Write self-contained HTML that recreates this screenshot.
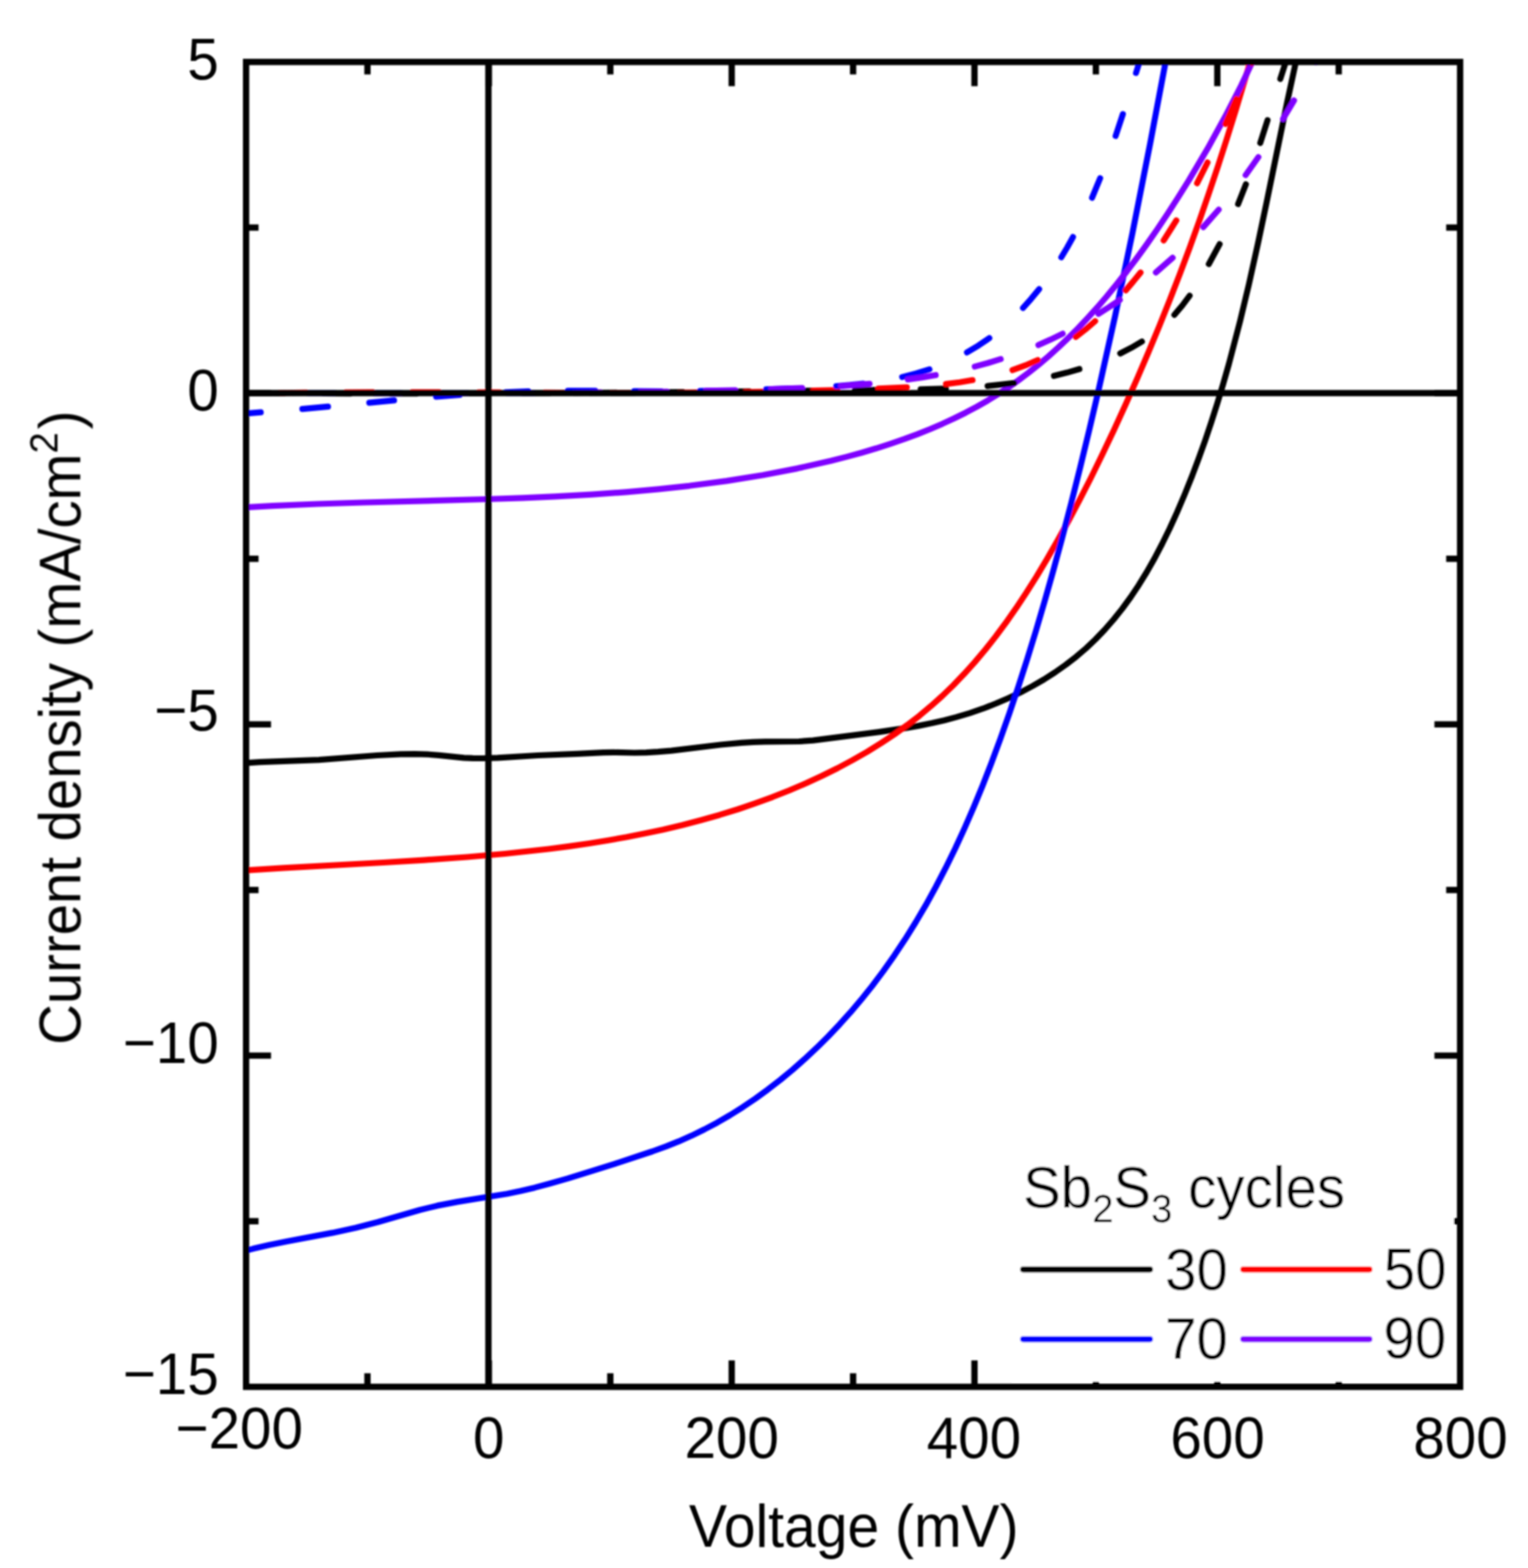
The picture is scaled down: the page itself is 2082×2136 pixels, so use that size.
<!DOCTYPE html>
<html><head><meta charset="utf-8"><title>J-V curves</title>
<style>
html,body{margin:0;padding:0;background:#fff;}
body{width:2082px;height:2136px;overflow:hidden;}
svg{display:block;}
text{font-family:"Liberation Sans",Arial,Helvetica,sans-serif;fill:#000;}
</style></head><body>
<svg width="2082" height="2136" viewBox="0 0 2082 2136">
<rect x="0" y="0" width="2082" height="2136" fill="#ffffff"/>
<defs><filter id="bl" filterUnits="userSpaceOnUse" x="0" y="0" width="2082" height="2136"><feGaussianBlur stdDeviation="0.8"/></filter>
<clipPath id="pc"><rect x="335.3" y="84.4" width="1654.2" height="1804.8"/></clipPath></defs>
<g filter="url(#bl)">
<g clip-path="url(#pc)" fill="none" stroke-width="8.2" stroke-linejoin="round">
<path d="M306.1,1041.1 353.7,1038.2 434.5,1035.1 513.9,1029.0 545.9,1027.4 565.2,1027.2 583.0,1027.7 598.1,1028.8 632.2,1032.3 644.3,1032.9 656.9,1033.0 678.1,1032.4 733.1,1029.0 786.8,1026.9 822.2,1025.1 835.9,1024.9 864.7,1025.5 880.4,1025.1 896.6,1024.2 914.8,1022.6 981.9,1014.5 1010.2,1011.9 1026.4,1010.9 1042.6,1010.3 1088.7,1010.0 1107.8,1008.6 1197.8,997.1 1233.3,991.9 1252.2,988.6 1270.0,985.1 1286.8,981.2 1303.1,976.9 1321.6,971.3 1339.5,965.2 1357.2,958.3 1374.2,951.0 1390.8,943.1 1407.0,934.5 1422.4,925.6 1437.4,916.0 1452.3,905.5 1466.6,894.4 1480.0,883.0 1492.7,870.9 1505.2,857.9 1517.4,843.9 1529.3,829.0 1540.6,813.5 1551.5,797.2 1562.4,779.5 1573.0,760.9 1583.4,741.0 1593.6,720.3 1603.8,697.9 1614.2,673.5 1624.3,648.4 1633.1,625.0 1641.9,600.6 1650.3,575.6 1658.5,550.0 1666.6,523.3 1674.4,496.0 1689.5,438.2 1701.7,387.4 1714.2,331.0 1725.6,276.8 1753.6,140.4 1771.1,59.3" stroke="#000000"/>
<path d="M307.6,1187.5 386.6,1182.4 522.1,1175.0 577.9,1171.6 636.3,1167.5 688.1,1163.0 747.7,1156.5 775.7,1152.9 802.6,1149.0 828.9,1144.7 854.1,1140.3 879.2,1135.3 903.3,1130.2 929.6,1124.0 955.2,1117.3 980.3,1110.2 1005.2,1102.5 1028.9,1094.4 1052.5,1085.8 1075.4,1076.7 1098.2,1067.0 1119.8,1057.0 1141.1,1046.5 1161.6,1035.5 1181.4,1024.2 1200.2,1012.5 1218.7,1000.3 1236.2,987.7 1252.9,974.9 1268.6,961.7 1283.8,948.1 1298.8,933.6 1313.6,918.2 1328.2,902.0 1342.6,884.9 1356.7,867.0 1370.6,848.3 1384.5,828.4 1398.2,807.7 1412.2,785.6 1426.4,761.9 1441.3,735.9 1456.6,708.2 1471.6,679.9 1486.4,651.0 1501.9,619.3 1517.5,586.4 1533.5,551.5 1549.5,515.6 1564.9,479.7 1579.7,444.0 1593.9,408.5 1607.6,373.3 1620.8,338.0 1633.9,301.6 1646.7,264.6 1659.5,226.6 1671.8,188.5 1683.9,149.8 1709.5,64.1" stroke="#ff0000"/>
<path d="M307.4,1710.7 344.8,1701.1 366.6,1696.1 391.4,1691.0 453.0,1679.4 485.0,1672.5 514.9,1664.8 572.1,1648.3 596.0,1642.4 623.5,1637.1 690.9,1626.2 708.9,1622.5 728.4,1617.9 749.4,1612.3 773.6,1605.4 836.3,1585.9 888.8,1568.5 907.8,1561.6 924.6,1554.9 942.3,1547.1 959.8,1538.5 977.2,1529.3 994.7,1519.1 1012.1,1508.2 1029.2,1496.6 1046.4,1484.1 1063.3,1471.0 1079.8,1457.3 1096.4,1442.7 1112.6,1427.6 1128.7,1411.6 1143.9,1395.6 1159.0,1378.8 1173.5,1361.7 1187.9,1343.7 1203.4,1323.1 1218.6,1301.6 1233.4,1279.3 1247.6,1256.5 1261.5,1232.9 1275.2,1208.0 1288.6,1182.2 1301.7,1155.5 1314.3,1128.1 1326.6,1099.9 1338.8,1070.4 1351.0,1039.1 1363.0,1006.6 1375.3,971.8 1387.6,935.4 1399.7,897.8 1411.6,859.1 1423.5,818.6 1435.3,776.9 1447.1,733.4 1459.4,686.3 1471.7,637.3 1483.8,587.4 1495.9,535.7 1519.4,430.5 1543.0,317.6 1567.0,196.4 1593.4,56.9" stroke="#0000ff"/>
<path d="M306.5,692.8 370.9,689.1 432.4,686.5 495.8,684.5 663.0,680.0 712.0,678.3 756.2,676.4 806.4,673.6 852.8,670.3 897.1,666.3 939.3,661.8 990.2,655.1 1039.3,647.2 1086.6,638.1 1132.1,627.8 1153.3,622.4 1174.0,616.7 1193.9,610.8 1213.2,604.6 1231.9,598.2 1249.7,591.6 1266.9,584.7 1283.9,577.4 1299.9,570.0 1315.7,562.2 1330.9,554.1 1345.9,545.6 1360.2,536.8 1373.9,527.8 1387.6,518.1 1401.1,508.0 1414.9,497.0 1428.4,485.6 1441.8,473.5 1455.3,460.7 1468.7,447.3 1481.7,433.5 1494.8,419.1 1507.7,404.1 1521.4,387.4 1535.2,369.9 1548.9,351.7 1562.8,332.5 1576.7,312.5 1590.9,291.2 1605.6,268.4 1619.7,245.8 1645.7,201.9 1669.8,158.1 1691.4,116.0 1715.5,65.2" stroke="#7f00ff"/>
<path d="M289.9,535.1 296.8,535.2 M350.5,535.6 387.3,535.8 M441.0,536.0 477.8,536.1 M531.5,536.1 568.3,536.1 M622.0,536.0 658.8,535.9 M712.5,535.7 749.3,535.5 M803.0,535.1 839.8,534.9 M893.5,534.4 930.3,534.1 M984.0,533.6 1020.8,533.2 M1074.5,532.6 1111.3,532.2 M1165.0,531.6 1199.0,531.2 M1254.5,530.4 1288.8,529.3 M1345.7,525.8 1363.9,523.9 1381.6,521.8 M1436.1,512.0 1453.9,507.6 1470.7,502.8 M1526.4,481.5 1541.6,473.7 1555.9,465.3 M1600.2,428.8 1610.8,416.4 1620.9,402.9 M1647.1,359.7 1661.8,332.6 M1687.0,278.0 1697.6,251.0 M1717.2,194.8 1727.1,163.7 M1744.5,107.6 1754.7,75.9" stroke="#000000" stroke-linecap="round"/>
<path d="M290.1,537.0 326.9,536.2 M380.6,535.3 417.4,534.9 M471.1,534.5 507.9,534.3 M561.6,534.3 598.4,534.3 M652.1,534.5 680.7,534.6 M741.9,534.8 775.8,535.0 M832.6,535.1 865.3,535.1 M925.0,534.9 950.9,534.7 M1015.2,534.0 1046.1,533.6 M1108.1,532.2 1140.8,531.3 M1197.0,529.4 1235.6,527.5 M1289.0,523.1 1307.8,520.7 1325.1,517.8 M1379.6,504.2 1397.3,497.7 1414.1,490.4 M1465.8,459.0 1479.2,448.6 1492.2,437.5 M1533.9,395.5 1544.1,383.5 1554.0,371.3 M1585.6,327.5 1602.8,300.3 M1631.1,249.6 1645.3,221.4 M1669.7,168.7 1684.6,134.7 M1705.4,85.9 1709.4,76.4" stroke="#ff0000" stroke-linecap="round"/>
<path d="M340.3,562.8 355.3,561.7 M412.0,557.1 446.9,553.9 M503.2,548.6 536.9,545.4 M594.3,540.4 626.3,538.0 M689.3,534.3 719.8,533.1 M773.8,532.3 811.0,532.4 M864.2,532.8 900.9,533.0 M953.9,532.7 990.9,532.0 M1044.0,530.4 1081.0,529.0 M1139.5,526.0 1158.4,524.4 1176.1,522.5 M1229.3,513.6 1248.4,508.7 1266.4,503.1 M1317.6,480.1 1333.2,470.7 1348.0,460.6 M1393.9,419.5 1404.9,407.2 1415.9,393.8 M1446.1,350.5 1454.2,337.0 1462.0,322.9 M1488.0,269.4 1499.0,242.7 M1520.1,185.2 1530.0,155.4 M1547.9,99.4 1555.1,76.4" stroke="#0000ff" stroke-linecap="round"/>
<path d="M329.2,535.5 366.0,535.5 M419.7,535.5 456.5,535.5 M510.2,535.6 547.0,535.7 M600.7,535.7 637.5,535.7 M691.2,535.5 728.0,535.4 M781.7,535.1 818.5,534.7 M872.2,534.1 908.9,533.5 M962.2,532.4 1001.7,531.5 M1051.0,530.0 1092.9,528.5 M1146.1,525.8 1184.8,522.8 M1237.0,516.9 1256.5,514.1 1274.9,511.0 M1328.2,499.4 1346.2,494.5 1363.5,489.2 M1414.9,470.0 1431.5,462.6 1447.9,454.6 M1496.8,427.5 1511.2,418.4 1525.8,408.6 M1575.0,371.1 1597.8,351.1 M1639.7,309.3 1660.5,285.6 M1697.3,238.5 1714.6,214.0 M1748.2,162.0 1763.2,136.9 M1792.7,84.7 1797.6,75.7" stroke="#7f00ff" stroke-linecap="round"/>
</g>
<g stroke="#000" stroke-width="8.6" fill="none">
<line x1="335.3" y1="535.5" x2="1989.5" y2="535.5"/>
<line x1="665.5" y1="84.4" x2="665.5" y2="1889.2"/>
</g>
<g stroke="#000" stroke-width="8.6"><line x1="500.7" y1="84.4" x2="500.7" y2="101.4"/><line x1="500.7" y1="1889.2" x2="500.7" y2="1870.7"/><line x1="666.1" y1="84.4" x2="666.1" y2="117.4"/><line x1="666.1" y1="1889.2" x2="666.1" y2="1853.2"/><line x1="831.6" y1="84.4" x2="831.6" y2="101.4"/><line x1="831.6" y1="1889.2" x2="831.6" y2="1870.7"/><line x1="997.0" y1="84.4" x2="997.0" y2="117.4"/><line x1="997.0" y1="1889.2" x2="997.0" y2="1853.2"/><line x1="1162.4" y1="84.4" x2="1162.4" y2="101.4"/><line x1="1162.4" y1="1889.2" x2="1162.4" y2="1870.7"/><line x1="1327.8" y1="84.4" x2="1327.8" y2="117.4"/><line x1="1327.8" y1="1889.2" x2="1327.8" y2="1853.2"/><line x1="1493.2" y1="84.4" x2="1493.2" y2="101.4"/><line x1="1493.2" y1="1889.2" x2="1493.2" y2="1870.7"/><line x1="1658.7" y1="84.4" x2="1658.7" y2="117.4"/><line x1="1658.7" y1="1889.2" x2="1658.7" y2="1853.2"/><line x1="1824.1" y1="84.4" x2="1824.1" y2="101.4"/><line x1="1824.1" y1="1889.2" x2="1824.1" y2="1870.7"/><line x1="335.3" y1="1663.6" x2="352.3" y2="1663.6"/><line x1="1989.5" y1="1663.6" x2="1970.5" y2="1663.6"/><line x1="335.3" y1="1438.0" x2="369.3" y2="1438.0"/><line x1="1989.5" y1="1438.0" x2="1954.5" y2="1438.0"/><line x1="335.3" y1="1212.4" x2="352.3" y2="1212.4"/><line x1="1989.5" y1="1212.4" x2="1970.5" y2="1212.4"/><line x1="335.3" y1="986.8" x2="369.3" y2="986.8"/><line x1="1989.5" y1="986.8" x2="1954.5" y2="986.8"/><line x1="335.3" y1="761.2" x2="352.3" y2="761.2"/><line x1="1989.5" y1="761.2" x2="1970.5" y2="761.2"/><line x1="335.3" y1="535.6" x2="369.3" y2="535.6"/><line x1="1989.5" y1="535.6" x2="1954.5" y2="535.6"/><line x1="335.3" y1="310.0" x2="352.3" y2="310.0"/><line x1="1989.5" y1="310.0" x2="1970.5" y2="310.0"/></g>
<rect x="1380" y="1560" width="601" height="322" fill="#ffffff"/>
<rect x="335.3" y="84.4" width="1654.2" height="1804.8" fill="none" stroke="#000" stroke-width="8.6"/>
<line x1="1394" y1="1729.3" x2="1567" y2="1729.3" stroke="#000000" stroke-width="8.2" stroke-linecap="round"/>
<line x1="1694" y1="1729.3" x2="1866" y2="1729.3" stroke="#ff0000" stroke-width="8.2" stroke-linecap="round"/>
<line x1="1394" y1="1824.3" x2="1567" y2="1824.3" stroke="#0000ff" stroke-width="8.2" stroke-linecap="round"/>
<line x1="1694" y1="1824.3" x2="1866" y2="1824.3" stroke="#7f00ff" stroke-width="8.2" stroke-linecap="round"/>
<text x="0" y="0" font-size="77" text-anchor="end" transform="translate(298.0 107.5) scale(1.0 1.04)">5</text>
<text x="0" y="0" font-size="77" text-anchor="end" transform="translate(298.0 558.5) scale(1.0 1.04)">0</text>
<text x="0" y="0" font-size="77" text-anchor="end" transform="translate(298.0 995.5) scale(1.0 1.04)">−5</text>
<text x="0" y="0" font-size="77" text-anchor="end" transform="translate(298.0 1447.5) scale(1.0 1.04)">−10</text>
<text x="0" y="0" font-size="77" text-anchor="end" transform="translate(298.0 1898.5) scale(1.0 1.04)">−15</text>
<text x="0" y="0" font-size="77" text-anchor="middle" transform="translate(326.0 1973.0) scale(1.0 1.04)">−200</text>
<text x="0" y="0" font-size="77" text-anchor="middle" transform="translate(666.0 1986.0) scale(1.0 1.04)">0</text>
<text x="0" y="0" font-size="77" text-anchor="middle" transform="translate(997.0 1986.0) scale(1.0 1.04)">200</text>
<text x="0" y="0" font-size="77" text-anchor="middle" transform="translate(1327.0 1986.0) scale(1.0 1.04)">400</text>
<text x="0" y="0" font-size="77" text-anchor="middle" transform="translate(1659.0 1986.0) scale(1.0 1.04)">600</text>
<text x="0" y="0" font-size="77" text-anchor="middle" transform="translate(1990.0 1986.0) scale(1.0 1.04)">800</text>
<text x="0" y="0" font-size="77.7" text-anchor="middle" transform="translate(1163.3 2107.5) scale(1.0 1.04)">Voltage (mV)</text>
<text x="0" y="0" font-size="77" text-anchor="start" transform="translate(1587.5 1756.5) scale(1.0 1.04)">30</text>
<text x="0" y="0" font-size="77" text-anchor="start" transform="translate(1885.5 1755.5) scale(1.0 1.04)">50</text>
<text x="0" y="0" font-size="77" text-anchor="start" transform="translate(1587.5 1851.0) scale(1.0 1.04)">70</text>
<text x="0" y="0" font-size="77" text-anchor="start" transform="translate(1885.0 1850.0) scale(1.0 1.04)">90</text>
<text x="0" y="0" font-size="77" transform="translate(1394 1644.5) scale(1 1.04)">Sb<tspan font-size="52" dy="20">2</tspan><tspan dy="-20">S</tspan><tspan font-size="52" dy="20">3</tspan><tspan dy="-20"> cycles</tspan></text>
<text x="0" y="0" font-size="76.7" text-anchor="middle" transform="translate(109.5 991.3) rotate(-90) scale(1 1.04)">Current density (mA/cm<tspan font-size="52" dy="-30">2</tspan><tspan dx="4" dy="30">)</tspan></text>
</g>
</svg></body></html>
